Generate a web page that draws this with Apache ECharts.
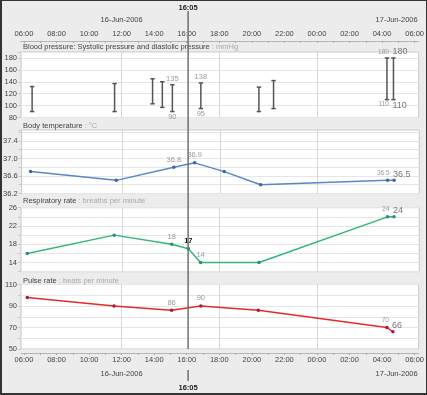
<!DOCTYPE html>
<html><head><meta charset="utf-8">
<script src="https://cdn.jsdelivr.net/npm/echarts@6/dist/echarts.min.js"></script>
<style>
html,body{margin:0;padding:0;background:#ececec;}
#wrap{position:relative;width:427px;height:395px;}
#chart{width:427px;height:395px;}
#frame{position:absolute;left:0;top:0;width:427px;height:395px;box-sizing:border-box;border:1px solid #333;border-left-width:2px;border-bottom-width:2px;pointer-events:none;}
</style></head><body>
<div id="wrap"><div id="chart"></div><div id="frame"></div></div>
<script>
// ---------- data ----------
const dayLabels = ['16-Jun-2006', '17-Jun-2006'];
const nowTime = '2006-06-16 16:05';
const axisStart = '2006-06-16 05:49';
const axisEnd = '2006-06-17 06:15';

const panelTitles = ['Blood pressure: Systolic pressure and diastolic pressure', 'Body temperature', 'Respiratory rate', 'Pulse rate'];
const panelUnits = ['mmHg', '°C', 'breaths per minute', 'beats per minute'];

const bpTimes = ['2006-06-16 06:30', '2006-06-16 11:34', '2006-06-16 13:54', '2006-06-16 14:30', '2006-06-16 15:07', '2006-06-16 16:52', '2006-06-16 20:26', '2006-06-16 21:20', '2006-06-17 04:18', '2006-06-17 04:42'];
const bpSystolic = [132, 137, 145, 140, 135, 138, 131, 142, 180, 180];
const bpDiastolic = [90, 90, 103, 97, 90, 95, 90, 95, 110, 110];

const tempTimes = ['2006-06-16 06:22', '2006-06-16 11:38', '2006-06-16 15:10', '2006-06-16 16:27', '2006-06-16 18:16', '2006-06-16 20:30', '2006-06-17 04:18', '2006-06-17 04:42'];
const tempValues = [36.7, 36.5, 36.8, 36.9, 36.7, 36.4, 36.5, 36.5];

const respTimes = ['2006-06-16 06:12', '2006-06-16 11:32', '2006-06-16 15:04', '2006-06-16 16:05', '2006-06-16 16:50', '2006-06-16 20:25', '2006-06-17 04:18', '2006-06-17 04:42'];
const respValues = [16, 20, 18, 17, 14, 14, 24, 24];

const pulseTimes = ['2006-06-16 06:12', '2006-06-16 11:32', '2006-06-16 15:04', '2006-06-16 16:52', '2006-06-16 20:24', '2006-06-17 04:18', '2006-06-17 04:40'];
const pulseValues = [98, 90, 86, 90, 86, 70, 66];

// ---------- helpers ----------
function toHours(s) {
  const [d, t] = s.split(' ');
  const day = +d.slice(8, 10) - 16;
  const [h, m] = t.split(':').map(Number);
  return day * 24 + h + m / 60;
}
const nowH = toHours(nowTime);
const xMin = toHours(axisStart), xMax = toHours(axisEnd);
const FONT = 'Liberation Sans, Arial, sans-serif';
const FS = 7.5;

function labelKinds(times) {
  const hs = times.map(toHours);
  const n = hs.length;
  const kinds = new Array(n).fill(null);
  let before = -1, after = -1;
  hs.forEach((h, i) => {
    if (h < nowH - 1e-6) before = i;
    if (after < 0 && h > nowH + 1e-6) after = i;
    if (Math.abs(h - nowH) < 1e-6) kinds[i] = 'now';
  });
  if (before >= 0) kinds[before] = 'near';
  if (after >= 0) kinds[after] = 'near';
  kinds[n - 2] = 'lastSmall';
  kinds[n - 1] = 'lastBig';
  return kinds;
}
const labelStyles = {
  near: { position: 'top', distance: 2, fontSize: FS, color: '#9a9a9a' },
  now: { position: 'top', distance: 2, fontSize: FS, color: '#111', fontWeight: 'bold' },
  lastSmall: { position: 'top', distance: 2, align: 'right', offset: [2, 0], fontSize: 6.5, color: '#9a9a9a' },
  lastBig: { position: 'top', distance: 1, align: 'left', offset: [-1, 1], fontSize: 9, color: '#777' }
};
function lineData(times, values) {
  const kinds = labelKinds(times);
  return times.map((t, i) => {
    const item = { value: [toHours(t), values[i]] };
    if (kinds[i]) item.label = Object.assign({ show: true, fontFamily: FONT, formatter: String(values[i]) }, labelStyles[kinds[i]]);
    return item;
  });
}
function hhmm(v) { const h = ((Math.round(v) % 24) + 24) % 24; return String(h).padStart(2, '0') + ':00'; }

// ---------- layout ----------
const grids = [
  { left: 21, right: 7.7, top: 52, height: 65.5 },
  { left: 21, right: 7.7, top: 130, height: 63.5 },
  { left: 21, right: 7.7, top: 207.7, height: 64 },
  { left: 21, right: 7.7, top: 284.5, height: 64.5 }
].map(g => Object.assign(g, { show: true, backgroundColor: '#fff', borderColor: '#c8c8c8', borderWidth: 1 }));
const titleTops = [42.5, 121.5, 197, 276.5];
const yCfg = [
  { min: 80, max: 190, interval: 20, dec: 0, show: v => v <= 180 },
  { min: 36.2, max: 37.65, interval: 0.2, dec: 1, show: v => Math.round(v * 10) % 4 === 2 && v < 37.5 },
  { min: 12, max: 26, interval: 2, dec: 0, show: v => v % 4 === 2 },
  { min: 50, max: 110, interval: 10, dec: 0, show: v => v % 20 === 10 }
];

const hourTicks = []; for (let h = 6; h <= 30; h++) hourTicks.push(h);
const hourLabels = []; for (let h = 6; h <= 30; h += 2) hourLabels.push(h);

const xAxes = grids.map((g, i) => ({
  type: 'value', gridIndex: i, min: xMin, max: xMax,
  axisLine: { show: false },
  axisTick: { show: false, customValues: [12, 18, 24] },
  axisLabel: { show: false },
  splitLine: { show: true, lineStyle: { color: '#d6d6d6', width: 1 } }
}));
const edgeAxis = (gridIndex, position, offset) => ({
  type: 'value', gridIndex, position, offset, min: xMin, max: xMax,
  axisLine: { show: true, lineStyle: { color: '#b5b5b5' } },
  axisTick: { show: true, customValues: hourTicks, length: 2, inside: position === 'top', lineStyle: { color: '#aaa' } },
  axisLabel: { show: true, customValues: hourLabels, formatter: hhmm, fontSize: FS, fontFamily: FONT, color: '#444', margin: 3 },
  splitLine: { show: false }
});
xAxes.push(edgeAxis(0, 'top', 11));
xAxes.push(edgeAxis(3, 'bottom', 4));

const yAxes = yCfg.map((c, i) => ({
  type: 'value', gridIndex: i, min: c.min, max: c.max, interval: c.interval,
  axisLine: { show: false },
  axisTick: { show: true, length: 3, lineStyle: { color: '#c8c8c8' } },
  axisLabel: { fontSize: FS, fontFamily: FONT, color: '#444', margin: 4,
    formatter: v => c.show(v) ? v.toFixed(c.dec) : '' },
  splitLine: { show: true, lineStyle: { color: '#e6e6e6' } }
}));

const titles = panelTitles.map((t, i) => ({
  text: '{a|' + t + '}{b| : ' + panelUnits[i] + '}',
  left: 23, top: titleTops[i], padding: 0,
  textStyle: { fontWeight: 'normal', rich: {
    a: { fontSize: FS, fontFamily: FONT, fontWeight: 'normal', color: '#444' },
    b: { fontSize: FS, fontFamily: FONT, fontWeight: 'normal', color: '#aaa' }
  } }
}));

const bpKinds = labelKinds(bpTimes);
const bpData = bpTimes.map((t, i) => [toHours(t), bpSystolic[i], bpDiastolic[i]]);

function bpRender(params, api) {
  const x = api.value(0), s = api.value(1), d = api.value(2);
  const p1 = api.coord([x, s]), p2 = api.coord([x, d]);
  const st = { stroke: '#555', lineWidth: 1.5 };
  const ch = [
    { type: 'line', shape: { x1: p1[0], y1: p1[1], x2: p2[0], y2: p2[1] }, style: st },
    { type: 'line', shape: { x1: p1[0] - 2.2, y1: p1[1], x2: p1[0] + 2.2, y2: p1[1] }, style: st },
    { type: 'line', shape: { x1: p2[0] - 2.2, y1: p2[1], x2: p2[0] + 2.2, y2: p2[1] }, style: st }
  ];
  const k = bpKinds[params.dataIndex];
  if (k) {
    let fs = FS, col = '#9a9a9a', align = 'center', dx = 0;
    if (k === 'lastSmall') { fs = 6.5; align = 'right'; dx = 2; }
    if (k === 'lastBig') { fs = 9; align = 'left'; dx = -1; col = '#777'; }
    ch.push({ type: 'text', style: { text: String(s), x: p1[0] + dx, y: p1[1] - 2, align, verticalAlign: 'bottom', fontSize: fs, fontFamily: FONT, fill: col } });
    ch.push({ type: 'text', style: { text: String(d), x: p2[0] + dx, y: p2[1] + 1, align, verticalAlign: 'top', fontSize: fs, fontFamily: FONT, fill: col } });
  }
  return { type: 'group', children: ch };
}

const lineSeries = (i, data, color, dark) => ({
  type: 'line', xAxisIndex: i, yAxisIndex: i, data,
  symbol: 'circle', symbolSize: 3.5, showSymbol: true,
  lineStyle: { color, width: 1.5 }, itemStyle: { color: dark },
  animation: false, z: 3
});

const option = {
  backgroundColor: '#ececec',
  animation: false,
  title: titles,
  grid: grids,
  xAxis: xAxes,
  yAxis: yAxes,
  series: [
    { type: 'custom', xAxisIndex: 0, yAxisIndex: 0, data: bpData, renderItem: bpRender, encode: { x: 0, y: [1, 2] }, z: 3 },
    lineSeries(1, lineData(tempTimes, tempValues), '#5a86c6', '#3d66a6'),
    lineSeries(2, lineData(respTimes, respValues), '#33b677', '#2a8f6a'),
    lineSeries(3, lineData(pulseTimes, pulseValues), '#e42a2a', '#b5123a')
  ]
};

const chart = echarts.init(document.getElementById('chart'), null, { renderer: 'canvas' });
chart.setOption(option);

// current time marker and date labels positioned through the axis scale
const nowX = chart.convertToPixel({ xAxisIndex: 0 }, nowH);
const rightX = chart.convertToPixel({ xAxisIndex: 0 }, xMax);
const lastPanelBottom = grids[3].top + grids[3].height;
const g = [
  { type: 'line', z: 100, shape: { x1: nowX, y1: 11, x2: nowX, y2: lastPanelBottom }, style: { stroke: '#707070', lineWidth: 1.5 } },
  { type: 'line', z: 100, shape: { x1: nowX, y1: 370, x2: nowX, y2: 381 }, style: { stroke: '#707070', lineWidth: 1.5 } },
  { type: 'text', z: 100, style: { text: '16:05', x: nowX, y: 7.5, align: 'center', verticalAlign: 'middle', fontSize: FS, fontWeight: 'bold', fontFamily: FONT, fill: '#222' } },
  { type: 'text', z: 100, style: { text: '16:05', x: nowX, y: 388, align: 'center', verticalAlign: 'middle', fontSize: FS, fontWeight: 'bold', fontFamily: FONT, fill: '#222' } }
];
dayLabels.forEach((lab, d) => {
  const noon = d * 24 + 12;
  let x, align;
  if (noon <= xMax) { x = chart.convertToPixel({ xAxisIndex: 0 }, noon); align = 'center'; }
  else { x = rightX - 1; align = 'right'; }
  [20, 374].forEach(y => g.push({ type: 'text', style: { text: lab, x, y, align, verticalAlign: 'middle', fontSize: FS, fontFamily: FONT, fill: '#444' } }));
});
chart.setOption({ graphic: g });
</script>
</body></html>
